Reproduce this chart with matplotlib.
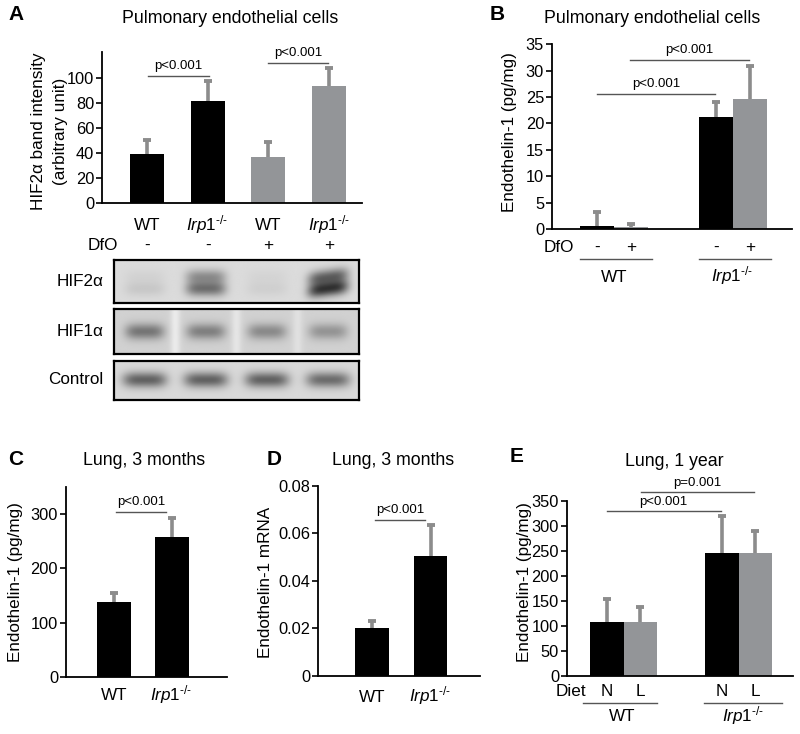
import numpy as np
import matplotlib
matplotlib.use("Agg")
import matplotlib.pyplot as plt
from matplotlib import transforms

plt.rcParams['font.family'] = ['Liberation Sans', 'DejaVu Sans']
plt.rcParams['mathtext.fontset'] = 'custom'
plt.rcParams['mathtext.rm'] = 'Liberation Sans'
plt.rcParams['mathtext.it'] = 'Liberation Sans:italic'

# ---------------- data ----------------
# Panel A: HIF2a band intensity
a_labels = ['WT', 'IRP', 'WT', 'IRP']
a_dfo = ['-', '-', '+', '+']
a_means = [39.5, 82, 37, 94]
a_sd = [11, 16, 11.5, 14.5]
a_colors = ['black', 'black', 'gray', 'gray']

# Panel B: Endothelin-1 in pulmonary endothelial cells
b_dfo = ['-', '+', '-', '+']
b_groups = ['WT', 'IRP']
b_means = [0.5, 0.4, 21.2, 24.7]
b_sd = [2.8, 0.6, 2.8, 6.2]
b_colors = ['black', 'gray', 'black', 'gray']

# Panel C: Endothelin-1, lung 3 months
c_labels = ['WT', 'IRP']
c_means = [138, 257]
c_sd = [16, 35]

# Panel D: Endothelin-1 mRNA, lung 3 months
d_labels = ['WT', 'IRP']
d_means = [0.0202, 0.0502]
d_sd = [0.003, 0.0131]

# Panel E: Endothelin-1, lung 1 year
e_diet = ['N', 'L', 'N', 'L']
e_groups = ['WT', 'IRP']
e_means = [108, 108, 245, 245]
e_sd = [45, 29, 74, 45]
e_colors = ['black', 'gray', 'black', 'gray']

# Western blot band darkness per lane (0 = none, 1 = dark)
hif2_upper_band = [0.05, 0.45, 0.04, 0.70]
hif2_lower_band = [0.10, 0.55, 0.06, 0.85]
hif1_band = [0.45, 0.40, 0.35, 0.30]
control_band = [0.55, 0.55, 0.55, 0.50]

# ---------------- styling ----------------
BLACK = '#000000'
GRAY = '#939598'
ERR = '#8c8c8c'
LINE = '#555555'
FS = 12.3
colmap = {'black': BLACK, 'gray': GRAY}
IRP = r'$\mathit{Irp1}^{\mathit{‐/‐}}$'

W, H = 800, 734
fig = plt.figure(figsize=(W / 100, H / 100), dpi=100)


def box(x0, y0, x1, y1):
    return [x0 / W, 1 - y1 / H, (x1 - x0) / W, (y1 - y0) / H]


def fy(ypx):
    return 1 - ypx / H


def ftext(x, y, s, **kw):
    fig.text(x / W, fy(y), s, **kw)


def style_axis(ax, yticks, yticklabels):
    for s in ['top', 'right']:
        ax.spines[s].set_visible(False)
    for s in ['left', 'bottom']:
        ax.spines[s].set_linewidth(1.3)
    ax.set_yticks(yticks)
    ax.set_yticklabels(yticklabels, fontsize=11.8)
    ax.tick_params(axis='y', direction='out', length=4, width=1.2, pad=1.5)
    ax.set_xticks([])
    ax.patch.set_alpha(0)


def bars(ax, xs, means, sds, colors, width):
    for x, m, s, c in zip(xs, means, sds, colors):
        ax.plot([x, x], [m, m + s], color=ERR, lw=2.6, zorder=1, solid_capstyle='butt')
        ax.plot([x], [m + s], marker='_', markersize=5.5, mew=2.8, color=ERR, zorder=1)
        ax.bar(x, m, width=width, color=colmap[c], zorder=2)


def sigline(ax, x0, x1, y, txt, dy=3):
    ax.plot([x0, x1], [y, y], color=LINE, lw=1.0, clip_on=False, zorder=3)
    ax.annotate(txt, xy=((x0 + x1) / 2, y), xytext=(0, dy), textcoords='offset points',
                ha='center', va='bottom', fontsize=9.5, annotation_clip=False)


def rowtext(ax, x, ypx, s, **kw):
    tr = transforms.blended_transform_factory(ax.transData, fig.transFigure)
    ax.text(x, fy(ypx), s, transform=tr, clip_on=False, **kw)


def rowline(ax, x0, x1, ypx):
    tr = transforms.blended_transform_factory(ax.transData, fig.transFigure)
    ax.plot([x0, x1], [fy(ypx), fy(ypx)], transform=tr, color=LINE, lw=1.0, clip_on=False)


def lab(s):
    return IRP if s == 'IRP' else s


# ---------------- Panel A ----------------
axA = fig.add_axes(box(102, 52, 362, 203))
xa = np.arange(4)
bars(axA, xa, a_means, a_sd, a_colors, 0.56)
axA.set_xlim(-0.743, 3.548)
axA.set_ylim(0, 121)
style_axis(axA, [0, 20, 40, 60, 80, 100], ['0', '20', '40', '60', '80', '100'])
sigline(axA, 0.02, 1.02, 102, 'p<0.001')
sigline(axA, 1.99, 2.99, 112.3, 'p<0.001')
for x, l, d in zip(xa, a_labels, a_dfo):
    rowtext(axA, x, 230, lab(l), ha='center', va='baseline', fontsize=FS)
    rowtext(axA, x, 250, d, ha='center', va='baseline', fontsize=FS)
rowtext(axA, -0.47, 250, 'DfO', ha='right', va='baseline', fontsize=FS)
ftext(230, 23, 'Pulmonary endothelial cells', ha='center', va='baseline', fontsize=12.8)
ftext(8, 20, 'A', ha='left', va='baseline', fontsize=15, fontweight='bold')
ftext(39, 131, 'HIF2α band intensity', rotation=90, ha='center', va='center', fontsize=FS)
ftext(61, 131, '(arbitrary unit)', rotation=90, ha='center', va='center', fontsize=FS)

# ---------------- Western blots ----------------
lane_centers = [0.5, 1.5, 2.5, 3.5]


def blot_image(bands, rows, sigx=0.28, sigy=0.12, bg=0.86, streaks=None, tilt=None):
    nx, ny = 400, 80
    xs = np.linspace(0, 4, nx)
    ys = np.linspace(0, 1, ny)
    X, Y = np.meshgrid(xs, ys)
    img = np.full_like(X, bg)
    for lane, c in enumerate(lane_centers):
        shift = 0 if tilt is None else tilt[lane] * (X - c)
        for r, (frac, strength) in enumerate(rows):
            amp = bands[r][lane]
            img -= amp * strength * np.exp(-((X - c) / sigx) ** 4 - ((Y - frac + shift) / sigy) ** 2)
    if streaks:
        for sx, sa in streaks:
            img += sa * np.exp(-((X - sx) / 0.08) ** 2)
    return np.clip(img, 0, 1)


def blot(y0, y1, img, label, ylab):
    ax = fig.add_axes(box(114, y0, 359, y1))
    ax.imshow(img, cmap='gray', vmin=0, vmax=1, extent=[0, 4, 1, 0], aspect='auto',
              interpolation='bilinear')
    ax.set_xticks([])
    ax.set_yticks([])
    for s in ax.spines.values():
        s.set_linewidth(1.6)
    ftext(103, ylab, label, ha='right', va='center', fontsize=FS)


img2 = blot_image([hif2_upper_band, hif2_lower_band], [(0.4, 0.65), (0.68, 0.75)],
                  sigx=0.33, sigy=0.17, bg=0.86, tilt=[0, 0, 0, 0.18])
blot(260, 303, img2, 'HIF2α', 282)
img1 = blot_image([hif1_band], [(0.5, 0.8)], sigx=0.32, sigy=0.18, bg=0.82,
                  streaks=[(1.0, 0.1), (2.0, 0.08), (3.0, 0.06)])
blot(309, 354, img1, 'HIF1α', 332)
imgc = blot_image([control_band], [(0.48, 0.85)], sigx=0.36, sigy=0.2, bg=0.85)
blot(361, 400, imgc, 'Control', 380)

# ---------------- Panel B ----------------
axB = fig.add_axes(box(551.7, 44.3, 792, 229))
xb = [0, 1, 3.5, 4.5]
bars(axB, xb, b_means, b_sd, b_colors, 1.0)
axB.set_xlim(-1.34, 5.73)
axB.set_ylim(0, 35)
style_axis(axB, list(range(0, 36, 5)), [str(v) for v in range(0, 36, 5)])
sigline(axB, -0.01, 3.47, 25.6, 'p<0.001')
sigline(axB, 0.96, 4.46, 32.0, 'p<0.001')
for x, d in zip(xb, b_dfo):
    rowtext(axB, x, 252, d, ha='center', va='baseline', fontsize=FS)
rowtext(axB, -0.68, 252, 'DfO', ha='right', va='baseline', fontsize=FS)
rowline(axB, -0.5, 1.6, 259)
rowline(axB, 3.0, 5.1, 259)
rowtext(axB, 0.5, 281.5, lab(b_groups[0]), ha='center', va='baseline', fontsize=FS)
rowtext(axB, 3.97, 281.5, lab(b_groups[1]), ha='center', va='baseline', fontsize=FS)
ftext(652, 23, 'Pulmonary endothelial cells', ha='center', va='baseline', fontsize=12.8)
ftext(490, 20, 'B', ha='left', va='baseline', fontsize=15, fontweight='bold')
ftext(510, 132, 'Endothelin-1 (pg/mg)', rotation=90, ha='center', va='center', fontsize=FS)

# ---------------- Panel C ----------------
axC = fig.add_axes(box(65.7, 486.7, 226.7, 677))
xc = np.arange(2)
bars(axC, xc, c_means, c_sd, ['black', 'black'], 0.59)
axC.set_xlim(-0.843, 1.957)
axC.set_ylim(0, 350)
style_axis(axC, [0, 100, 200, 300], ['0', '100', '200', '300'])
sigline(axC, 0.04, 0.91, 303, 'p<0.001')
for x, l in zip(xc, c_labels):
    rowtext(axC, x, 700, lab(l), ha='center', va='baseline', fontsize=FS)
ftext(144, 465, 'Lung, 3 months', ha='center', va='baseline', fontsize=12.8)
ftext(8, 465, 'C', ha='left', va='baseline', fontsize=15, fontweight='bold')
ftext(16, 582, 'Endothelin-1 (pg/mg)', rotation=90, ha='center', va='center', fontsize=FS)

# ---------------- Panel D ----------------
axD = fig.add_axes(box(318, 485.7, 480, 675.7))
xd = np.arange(2)
bars(axD, xd, d_means, d_sd, ['black', 'black'], 0.58)
axD.set_xlim(-0.923, 1.846)
axD.set_ylim(0, 0.08)
style_axis(axD, [0, 0.02, 0.04, 0.06, 0.08], ['0', '0.02', '0.04', '0.06', '0.08'])
sigline(axD, 0.05, 0.90, 0.0656, 'p<0.001')
for x, l in zip(xd, d_labels):
    rowtext(axD, x, 701.5, lab(l), ha='center', va='baseline', fontsize=FS)
ftext(393, 465, 'Lung, 3 months', ha='center', va='baseline', fontsize=12.8)
ftext(267, 465, 'D', ha='left', va='baseline', fontsize=15, fontweight='bold')
ftext(265.5, 582, 'Endothelin-1 mRNA', rotation=90, ha='center', va='center', fontsize=FS)

# ---------------- Panel E ----------------
axE = fig.add_axes(box(566.7, 500.7, 793, 676))
xe = [0, 1, 3.42, 4.42]
bars(axE, xe, e_means, e_sd, e_colors, 1.0)
axE.set_xlim(-1.19, 5.54)
axE.set_ylim(0, 350)
style_axis(axE, list(range(0, 351, 50)), [str(v) for v in range(0, 351, 50)])
sigline(axE, 0.0, 3.39, 330, 'p<0.001', dy=2)
sigline(axE, 1.02, 4.38, 368, 'p=0.001', dy=2)
for x, d in zip(xe, e_diet):
    rowtext(axE, x, 696.5, d, ha='center', va='baseline', fontsize=FS)
rowtext(axE, -0.6, 696.5, 'Diet', ha='right', va='baseline', fontsize=FS)
rowline(axE, -0.7, 1.5, 703)
rowline(axE, 2.88, 5.21, 703)
rowtext(axE, 0.45, 721, lab(e_groups[0]), ha='center', va='baseline', fontsize=FS)
rowtext(axE, 4.05, 721, lab(e_groups[1]), ha='center', va='baseline', fontsize=FS)
ftext(674, 466, 'Lung, 1 year', ha='center', va='baseline', fontsize=12.8)
ftext(510, 462, 'E', ha='left', va='baseline', fontsize=15, fontweight='bold')
ftext(525, 582, 'Endothelin-1 (pg/mg)', rotation=90, ha='center', va='center', fontsize=FS)

fig.savefig('out.png', dpi=100)
